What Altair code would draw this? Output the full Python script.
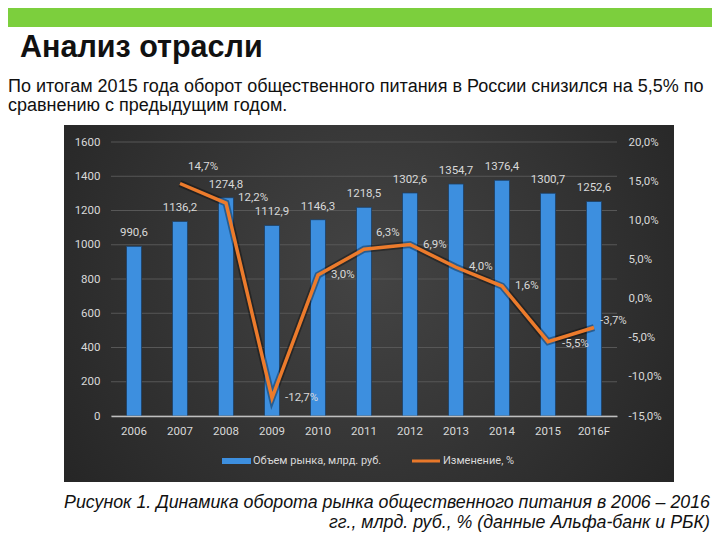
import altair as alt
import pandas as pd

years = ["2006", "2007", "2008", "2009", "2010", "2011", "2012", "2013", "2014", "2015", "2016F"]
volume = [990.6, 1136.2, 1274.8, 1112.9, 1146.3, 1218.5, 1302.6, 1354.7, 1376.4, 1300.7, 1252.6]
change = [None, 14.7, 12.2, -12.7, 3.0, 6.3, 6.9, 4.0, 1.6, -5.5, -3.7]
left_ticks = [0, 200, 400, 600, 800, 1000, 1200, 1400, 1600]
right_ticks = [-15, -10, -5, 0, 5, 10, 15, 20]

def fmt_num(v):
    return f"{v:.1f}".replace(".", ",")

df = pd.DataFrame({"year": years, "volume": volume, "change": change})
df["vlabel"] = [fmt_num(v) for v in volume]
df["clabel"] = [("" if c is None or pd.isna(c) else fmt_num(c) + "%") for c in change]
dfl = df.dropna(subset=["change"])
grid_df = pd.DataFrame({"volume": left_ticks})

one = pd.DataFrame({"a": [0]})
FONT = "Roboto"
LBL = "#d9d9d9"

xenc = alt.X("year:N", sort=years,
             scale=alt.Scale(paddingInner=0.674, paddingOuter=0.337),
             axis=alt.Axis(title=None, labelAngle=0, domainColor="#bfbfbf", domainWidth=1.5,
                           ticks=False, labelPadding=9, labelColor=LBL, labelFontSize=11.5,
                           labelFont=FONT, zindex=1))

panel_grad = alt.Gradient(
    gradient="radial",
    stops=[alt.GradientStop(offset=0, color="#444444"), alt.GradientStop(offset=1, color="#1c1c1c")],
    x1=0.5, y1=0.45, r1=0, x2=0.5, y2=0.45, r2=0.8,
)

panel = alt.Chart(one).mark_rect(fill=panel_grad).encode(
    x=alt.value(-47), x2=alt.value(563), y=alt.value(-17), y2=alt.value(340))
green = alt.Chart(one).mark_rect(color="#7ccf3d").encode(
    x=alt.value(-120), x2=alt.value(620), y=alt.value(-150), y2=alt.value(-115))

title = alt.Chart(one).mark_text(text="Анализ отрасли", font="Liberation Sans", fontSize=30.5,
                                 fontWeight="bold", align="left", baseline="middle",
                                 color="#111111").encode(x=alt.value(-91), y=alt.value(-94))
sub1 = alt.Chart(one).mark_text(
    text="По итогам 2015 года оборот общественного питания в России снизился на 5,5% по",
    font="Liberation Sans", fontSize=18, align="left", baseline="middle",
    color="#111111").encode(x=alt.value(-103), y=alt.value(-55))
sub2 = alt.Chart(one).mark_text(
    text="сравнению с предыдущим годом.",
    font="Liberation Sans", fontSize=18, align="left", baseline="middle",
    color="#111111").encode(x=alt.value(-103), y=alt.value(-36))
cap1 = alt.Chart(one).mark_text(
    text="Рисунок 1. Динамика оборота рынка общественного питания в 2006 – 2016",
    font="Liberation Sans", fontSize=17.8, fontStyle="italic", align="right", baseline="alphabetic",
    color="#111111").encode(x=alt.value(599), y=alt.value(366))
cap2 = alt.Chart(one).mark_text(
    text="гг., млрд. руб., % (данные Альфа-банк и РБК)",
    font="Liberation Sans", fontSize=17.8, fontStyle="italic", align="right", baseline="alphabetic",
    color="#111111").encode(x=alt.value(599), y=alt.value(386))

leg_sw1 = alt.Chart(one).mark_rect(color="#3d8fdf").encode(
    x=alt.value(111), x2=alt.value(140), y=alt.value(316), y2=alt.value(322))
leg_t1 = alt.Chart(one).mark_text(text="Объем рынка, млрд. руб.", font=FONT, fontSize=11,
                                  align="left", baseline="middle", color=LBL).encode(
    x=alt.value(142), y=alt.value(319))
leg_sw2 = alt.Chart(one).mark_rect(color="#e8782a").encode(
    x=alt.value(301), x2=alt.value(329), y=alt.value(317.5), y2=alt.value(320.5))
leg_t2 = alt.Chart(one).mark_text(text="Изменение, %", font=FONT, fontSize=11,
                                  align="left", baseline="middle", color=LBL).encode(
    x=alt.value(332), y=alt.value(319))

yl = alt.Y("volume:Q", scale=alt.Scale(domain=[0, 1600], nice=False),
           axis=alt.Axis(title=None, values=left_ticks, format="d", grid=False, domain=False,
                         ticks=False, labelPadding=11, labelColor=LBL, labelFontSize=11.5,
                         labelFont=FONT, zindex=1))

grid = alt.Chart(grid_df).mark_rule(color="#575757", strokeWidth=1).encode(y=yl)
bars = alt.Chart(df).mark_bar(color="#3d8fdf", stroke="#1d3f63", strokeWidth=0.8).encode(x=xenc, y=yl)
bar_lbl = alt.Chart(df).mark_text(dy=-13, font=FONT, fontSize=11.5, color=LBL,
                                  baseline="middle").encode(x=xenc, y=yl, text="vlabel:N")
left = alt.layer(grid, bars, bar_lbl)

yr = alt.Y("change:Q", scale=alt.Scale(domain=[-15, 20], nice=False),
           axis=alt.Axis(title=None, orient="right", values=right_ticks, grid=False,
                         domain=False, ticks=False, labelPadding=11, labelColor=LBL,
                         labelFontSize=11.5, labelFont=FONT, zindex=1,
                         labelExpr="(datum.value < 0 ? '-' : '') + replace(format(abs(datum.value), '.1f'), '.', ',') + '%'"))

shadow = alt.Chart(dfl).mark_line(color="#000000", opacity=0.35, strokeWidth=7).encode(x=xenc, y=yr)
line = alt.Chart(dfl).mark_line(color="#ec7b2c", strokeWidth=3.5).encode(x=xenc, y=yr)

def pct_label(filter_expr, dx, dy):
    return alt.Chart(dfl).transform_filter(filter_expr).mark_text(
        align="left", dx=dx, dy=dy, font=FONT, fontSize=11.5, color=LBL, baseline="middle"
    ).encode(x=xenc, y=yr, text="clabel:N")

pl_main = pct_label("indexof(['2007','2008','2011','2015','2016F'], datum.year) < 0", 13, 0)
pl_a = pct_label("datum.year == '2007'", 8, -16)
pl_b = pct_label("datum.year == '2008'", 12, -5)
pl_c = pct_label("datum.year == '2011'", 12, -16)
pl_d = pct_label("datum.year == '2015'", 14, 2)
pl_e = pct_label("datum.year == '2016F'", 6, -7)
right = alt.layer(shadow, line, pl_main, pl_a, pl_b, pl_c, pl_d, pl_e)

chart = alt.layer(
    green, panel, title, sub1, sub2, cap1, cap2, leg_sw1, leg_t1, leg_sw2, leg_t2, left, right
).resolve_scale(y="independent").properties(
    width=506, height=274,
    padding={"left": 103, "top": 134, "right": 95, "bottom": 116},
    autosize=alt.AutoSizeParams(type="none"),
    background="white",
).configure_view(stroke=None)

chart.save("out.html", embed_options={"renderer": "svg", "actions": False})
